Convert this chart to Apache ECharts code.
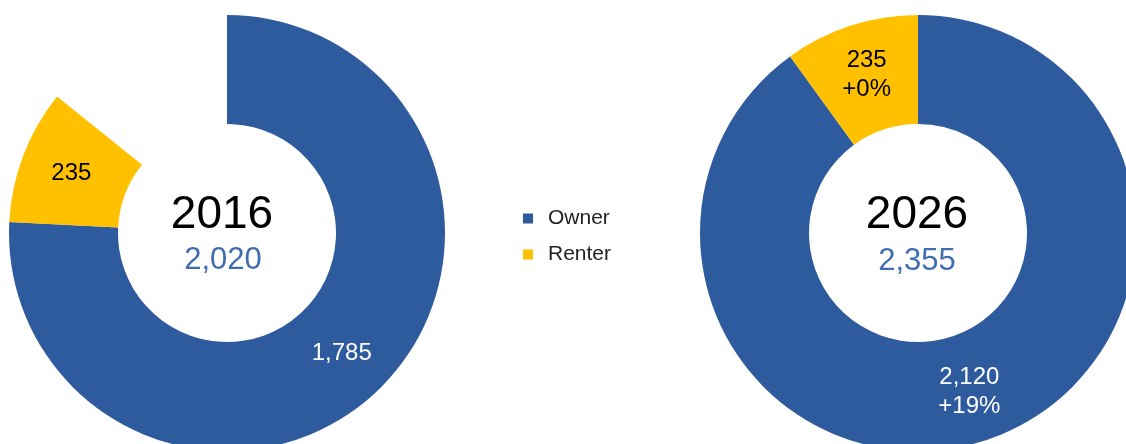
<!DOCTYPE html>
<html>
<head>
<meta charset="utf-8">
<script src="https://cdn.jsdelivr.net/npm/echarts@6/dist/echarts.min.js"></script>
<style>
  html, body { margin: 0; padding: 0; background: #fff; }
  #chart { width: 1126px; height: 444px; }
</style>
</head>
<body>
<div id="chart"></div>
<script>
// data
var categories = ['Owner', 'Renter'];
var years = ['2016', '2026'];
var values2016 = [1785, 235];
var values2026 = [2120, 235];
var colors = ['#2E5B9D', '#FFC000'];

var font = '"Liberation Sans", Arial, sans-serif';

function sum(arr) {
    return arr.reduce(function (a, b) { return a + b; }, 0);
}
function fmt(n) {
    return n.toLocaleString('en-US');
}

var total2016 = sum(values2016);
var total2026 = sum(values2026);

// 2016 ring is drawn on the 2026 scale, the rest stays empty
var data2016 = categories.map(function (c, i) {
    return {
        name: c, value: values2016[i],
        itemStyle: {color: colors[i]},
        label: {color: i === 0 ? '#fff' : '#000'}
    };
});
data2016.push({
    name: 'gap', value: total2026 - total2016,
    itemStyle: {color: 'transparent'},
    label: {show: false},
    emphasis: {disabled: true},
    tooltip: {show: false}
});

var data2026 = categories.map(function (c, i) {
    return {
        name: c, value: values2026[i],
        itemStyle: {color: colors[i]},
        label: {color: i === 0 ? '#fff' : '#000'}
    };
});

var myChart = echarts.init(document.getElementById('chart'));

var option = {
    animation: false,
    legend: {
        data: categories,
        orient: 'vertical',
        left: 518,
        top: 203,
        itemWidth: 10,
        itemHeight: 10,
        itemGap: 15,
        icon: 'rect',
        textStyle: {fontFamily: font, fontSize: 21, color: '#222', padding: [0, 0, 0, 10]}
    },
    series: [
        {
            name: years[0],
            type: 'pie',
            center: [227, 233],
            radius: [109, 218],
            startAngle: 90,
            clockwise: true,
            avoidLabelOverlap: false,
            label: {
                show: true,
                position: 'inside',
                fontFamily: font,
                fontSize: 24,
                formatter: function (p) { return fmt(p.value); }
            },
            labelLine: {show: false},
            data: data2016
        },
        {
            name: years[1],
            type: 'pie',
            center: [918, 233],
            radius: [109, 218],
            startAngle: 90,
            clockwise: true,
            avoidLabelOverlap: false,
            label: {
                show: true,
                position: 'inside',
                fontFamily: font,
                fontSize: 24,
                lineHeight: 29,
                formatter: function (p) {
                    var prev = values2016[p.dataIndex];
                    var pct = Math.round((p.value - prev) / prev * 100);
                    return fmt(p.value) + '\n+' + pct + '%';
                }
            },
            labelLine: {show: false},
            data: data2026
        }
    ],
    graphic: [
        {type: 'text', x: 222, y: 215, style: {text: years[0], fontFamily: font, fontSize: 46, fill: '#000', align: 'center', verticalAlign: 'middle'}},
        {type: 'text', x: 223, y: 260, style: {text: fmt(total2016), fontFamily: font, fontSize: 31, fill: '#3F6DB0', align: 'center', verticalAlign: 'middle'}},
        {type: 'text', x: 917, y: 215, style: {text: years[1], fontFamily: font, fontSize: 46, fill: '#000', align: 'center', verticalAlign: 'middle'}},
        {type: 'text', x: 917, y: 261, style: {text: fmt(total2026), fontFamily: font, fontSize: 31, fill: '#3F6DB0', align: 'center', verticalAlign: 'middle'}}
    ]
};
myChart.setOption(option);
</script>
</body>
</html>
